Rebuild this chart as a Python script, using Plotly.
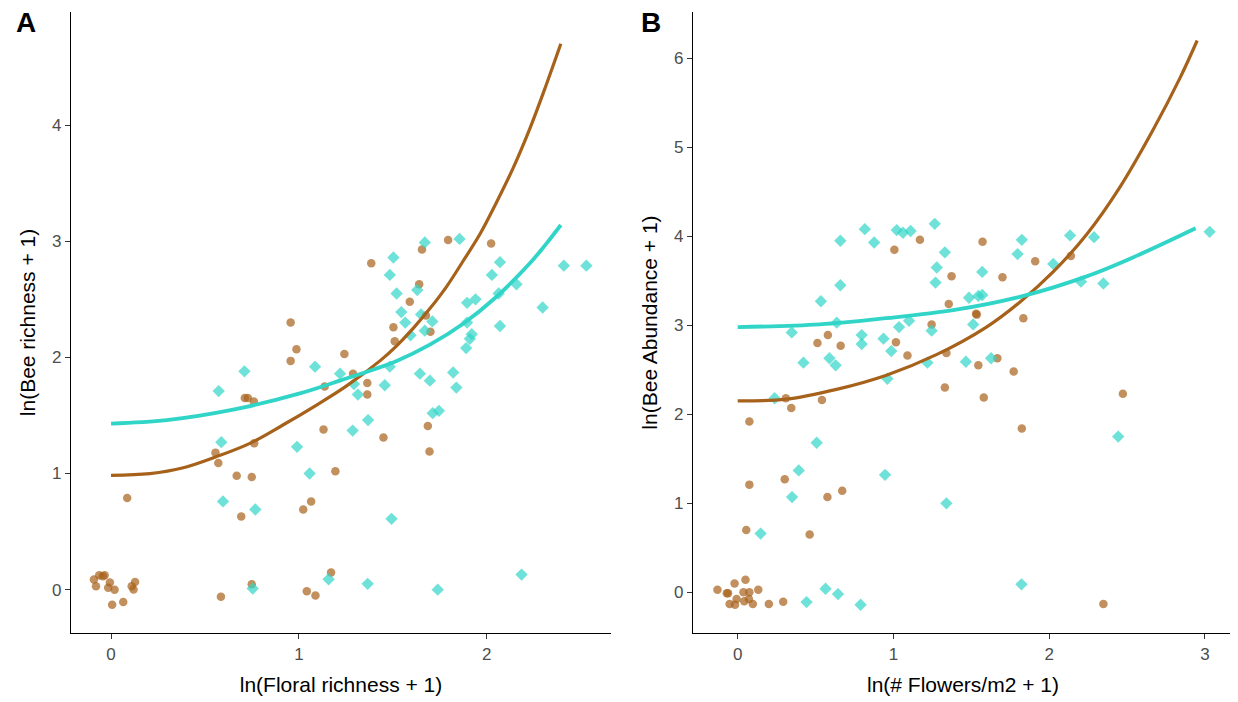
import plotly.graph_objects as go

# ---------------- Panel A data ----------------
a_brown_x = [1.655, 1.794, 2.023, 1.385, 1.64, 1.59, 1.676, 1.503, 1.70, 0.956, 0.987, 1.51,
             0.956, 1.242, 1.288, 1.364, 1.364, 1.137, 0.712, 0.728, 0.76, 1.131, 1.45, 1.686,
             1.695, 0.762, 0.556, 0.571, 0.669, 0.749, 1.194, 0.086, 1.065, 1.023, 0.693,
             -0.091, -0.063, -0.034, -0.044, -0.006, -0.080, -0.015, 0.019, 0.006, 0.065, 0.11, 0.128, 0.12,
             0.585, 0.749, 1.042, 1.088, 1.171]
a_brown_y = [2.93, 3.01, 2.98, 2.81, 2.63, 2.48, 2.36, 2.26, 2.22, 2.30, 2.07, 2.14,
             1.97, 2.03, 1.86, 1.78, 1.68, 1.75, 1.65, 1.65, 1.62, 1.38, 1.31, 1.41,
             1.19, 1.26, 1.18, 1.09, 0.98, 0.97, 1.02, 0.79, 0.76, 0.69, 0.63,
             0.087, 0.124, 0.124, 0.116, 0.062, 0.03, 0.016, -0.001, -0.13, -0.107, 0.03, 0.067, 0.002,
             -0.06, 0.047, -0.013, -0.05, 0.148]

a_cyan_x = [1.67, 1.855, 1.503, 1.484, 2.07, 2.027, 2.41, 2.53, 1.52, 1.63, 2.158, 1.895, 1.94,
            2.063, 2.297, 1.545, 1.566, 1.65, 1.71, 1.594, 1.67, 1.895, 2.07, 1.92, 1.91, 1.89,
            1.086, 1.219, 1.293, 1.314, 1.484, 1.457, 1.644, 1.697, 1.821, 1.838, 1.712, 1.745,
            1.368, 1.286, 0.71, 0.573, 0.587, 0.99, 1.057, 0.596, 0.768, 1.493, 2.185, 1.739,
            1.366, 1.158, 0.754]
a_cyan_y = [2.99, 3.02, 2.86, 2.71, 2.82, 2.71, 2.79, 2.79, 2.55, 2.58, 2.63, 2.47, 2.50,
            2.55, 2.43, 2.39, 2.30, 2.37, 2.31, 2.19, 2.23, 2.30, 2.27, 2.20, 2.16, 2.08,
            1.92, 1.86, 1.77, 1.68, 1.92, 1.76, 1.86, 1.80, 1.87, 1.74, 1.52, 1.54,
            1.46, 1.37, 1.88, 1.71, 1.27, 1.23, 1.00, 0.76, 0.69, 0.61, 0.13, 0.00,
            0.05, 0.09, 0.01]

a_fit_brown_x = [0.0, 0.207, 0.385, 0.562, 0.739, 0.917, 1.094, 1.25, 1.431, 1.52, 1.608, 1.697,
                 1.786, 1.874, 1.963, 2.05, 2.14, 2.229, 2.317, 2.394]
a_fit_brown_y = [0.985, 1.00, 1.05, 1.146, 1.26, 1.42, 1.59, 1.75, 1.97, 2.10, 2.25, 2.42,
                 2.61, 2.83, 3.06, 3.33, 3.63, 3.97, 4.35, 4.70]
a_fit_cyan_x = [0.0, 0.296, 0.65, 1.005, 1.218, 1.52, 1.697, 1.874, 2.05, 2.229, 2.317, 2.394]
a_fit_cyan_y = [1.43, 1.46, 1.55, 1.69, 1.80, 1.97, 2.11, 2.29, 2.52, 2.81, 2.98, 3.14]

# ---------------- Panel B data ----------------
b_brown_x = [1.17, 1.572, 1.006, 1.373, 1.70, 1.91, 2.139, 1.355, 1.53, 1.535, 1.834, 1.245,
             0.512, 0.579, 0.661, 1.016, 1.09, 1.34, 1.667, 1.545, 1.772, 1.33, 1.58, 2.473,
             0.309, 0.541, 0.344, 0.075, 1.824, 0.302, 0.075, 0.576, 0.671, 0.055, 0.462, 2.348,
             -0.13, -0.07, -0.062, -0.02, 0.05, 0.037, 0.075, 0.132, -0.052, -0.017, 0.042,
             0.072, 0.097, 0.2, 0.292, -0.007]
b_brown_y = [3.96, 3.94, 3.85, 3.55, 3.54, 3.72, 3.78, 3.24, 3.13, 3.12, 3.08, 3.01,
             2.80, 2.89, 2.77, 2.81, 2.66, 2.69, 2.63, 2.55, 2.48, 2.30, 2.19, 2.23,
             2.18, 2.16, 2.07, 1.92, 1.84, 1.27, 1.21, 1.07, 1.14, 0.70, 0.65, -0.13,
             0.03, -0.01, -0.01, 0.10, 0.14, 0.0, 0.0, 0.03, -0.13, -0.14, -0.10,
             -0.075, -0.13, -0.13, -0.105, -0.075]

b_cyan_x = [0.816, 1.021, 1.061, 1.11, 1.265, 0.659, 0.876, 1.33, 1.278, 1.57, 1.27, 0.659,
            0.534, 1.485, 1.545, 1.57, 1.824, 1.797, 2.134, 2.288, 2.026, 2.204, 2.348, 3.03,
            0.636, 0.347, 0.796, 1.036, 1.10, 1.245, 1.512, 0.936, 0.796, 0.986, 0.422, 0.589,
            0.629, 1.218, 1.465, 1.627, 0.961, 0.237, 0.507, 0.392, 0.349, 0.946, 1.34, 0.147,
            2.443, 1.822, 0.564, 0.644, 0.442, 0.789]
b_cyan_y = [4.08, 4.07, 4.04, 4.06, 4.14, 3.95, 3.93, 3.82, 3.65, 3.60, 3.48, 3.45,
            3.27, 3.31, 3.33, 3.34, 3.96, 3.80, 4.01, 3.99, 3.69, 3.49, 3.47, 4.05,
            3.03, 2.92, 2.89, 2.98, 3.05, 2.94, 3.01, 2.85, 2.79, 2.71, 2.58, 2.63,
            2.55, 2.58, 2.59, 2.63, 2.40, 2.18, 1.68, 1.37, 1.07, 1.32, 1.00, 0.66,
            1.75, 0.09, 0.04, -0.02, -0.11, -0.14]

b_fit_brown_x = [0.0, 0.313, 0.634, 0.955, 1.276, 1.597, 1.811, 2.025, 2.24, 2.453, 2.668, 2.84, 2.95]
b_fit_brown_y = [2.15, 2.17, 2.28, 2.44, 2.67, 2.98, 3.26, 3.60, 4.02, 4.55, 5.20, 5.78, 6.20]
b_fit_cyan_x = [0.0, 0.527, 0.955, 1.383, 1.811, 2.24, 2.56, 2.94]
b_fit_cyan_y = [2.98, 3.01, 3.08, 3.17, 3.32, 3.55, 3.78, 4.09]

# ---------------- Labels ----------------
a_xticks = [0, 1, 2]
a_yticks = [0, 1, 2, 3, 4]
b_xticks = [0, 1, 2, 3]
b_yticks = [0, 1, 2, 3, 4, 5, 6]
a_xtitle = "ln(Floral richness + 1)"
a_ytitle = "ln(Bee richness + 1)"
b_xtitle = "ln(# Flowers/m2 + 1)"
b_ytitle = "ln(Bee Abundance + 1)"

BROWN = "#A6611A"
CYAN = "#30D5C8"
FONT = "Liberation Sans, Arial, sans-serif"

fig = go.Figure()


def add_panel(xa, ya, bx, by, cx, cy, fbx, fby, fcx, fcy):
    fig.add_trace(go.Scatter(x=bx, y=by, mode="markers", xaxis=xa, yaxis=ya,
                             marker=dict(symbol="circle", size=8.5, color=BROWN, opacity=0.7,
                                         line=dict(width=0)), showlegend=False))
    fig.add_trace(go.Scatter(x=cx, y=cy, mode="markers", xaxis=xa, yaxis=ya,
                             marker=dict(symbol="diamond", size=9.5, color=CYAN, opacity=0.7,
                                         line=dict(width=0)), showlegend=False))
    fig.add_trace(go.Scatter(x=fbx, y=fby, mode="lines", xaxis=xa, yaxis=ya,
                             line=dict(color=BROWN, width=3.2, shape="spline", smoothing=1.0),
                             showlegend=False))
    fig.add_trace(go.Scatter(x=fcx, y=fcy, mode="lines", xaxis=xa, yaxis=ya,
                             line=dict(color=CYAN, width=3.8, shape="spline", smoothing=1.0),
                             showlegend=False))


add_panel("x", "y", a_brown_x, a_brown_y, a_cyan_x, a_cyan_y,
          a_fit_brown_x, a_fit_brown_y, a_fit_cyan_x, a_fit_cyan_y)
add_panel("x2", "y2", b_brown_x, b_brown_y, b_cyan_x, b_cyan_y,
          b_fit_brown_x, b_fit_brown_y, b_fit_cyan_x, b_fit_cyan_y)

# the page body adds an 8 px margin, so the figure is 8 px smaller and shifted
OFF = 8
W, H = 1238 - OFF, 702 - OFF
top_px, bot_px = 12 - OFF, 633 - OFF
ydom = [1 - bot_px / H, 1 - top_px / H]

axis_common = dict(showline=True, linecolor="black", linewidth=1.3, ticks="outside",
                   ticklen=5, tickwidth=1.3, tickcolor="#333333", showgrid=False, zeroline=False,
                   tickfont=dict(family=FONT, size=17, color="#4D4D4D"), automargin=False,
                   mirror=False)
tfont = dict(family=FONT, size=21, color="black")

fig.update_layout(
    width=W, height=H, template="none",
    paper_bgcolor="white", plot_bgcolor="white",
    margin=dict(l=0, r=0, t=0, b=0),
    showlegend=False,
    xaxis=dict(domain=[(71 - OFF) / W, (611 - OFF) / W], range=[-0.213, 2.661], tickvals=a_xticks,
               anchor="y", title=dict(text=a_xtitle, font=tfont, standoff=14), **axis_common),
    yaxis=dict(domain=ydom, range=[-0.373, 4.974], tickvals=a_yticks, anchor="x",
               title=dict(text=a_ytitle, font=tfont, standoff=10), **axis_common),
    xaxis2=dict(domain=[(693 - OFF) / W, (1233 - OFF) / W], range=[-0.287, 3.18], tickvals=b_xticks,
                anchor="y2", title=dict(text=b_xtitle, font=tfont, standoff=14), **axis_common),
    yaxis2=dict(domain=ydom, range=[-0.457, 6.52], tickvals=b_yticks, anchor="x2",
                title=dict(text=b_ytitle, font=tfont, standoff=10), **axis_common),
    annotations=[
        dict(text="<b>A</b>", x=(26 - OFF) / W, y=1 - (22 - OFF) / H, xref="paper", yref="paper",
             showarrow=False, font=dict(family=FONT, size=28, color="black"),
             xanchor="center", yanchor="middle"),
        dict(text="<b>B</b>", x=(651 - OFF) / W, y=1 - (22 - OFF) / H, xref="paper", yref="paper",
             showarrow=False, font=dict(family=FONT, size=28, color="black"),
             xanchor="center", yanchor="middle"),
    ],
)

fig.write_html("out.html")
